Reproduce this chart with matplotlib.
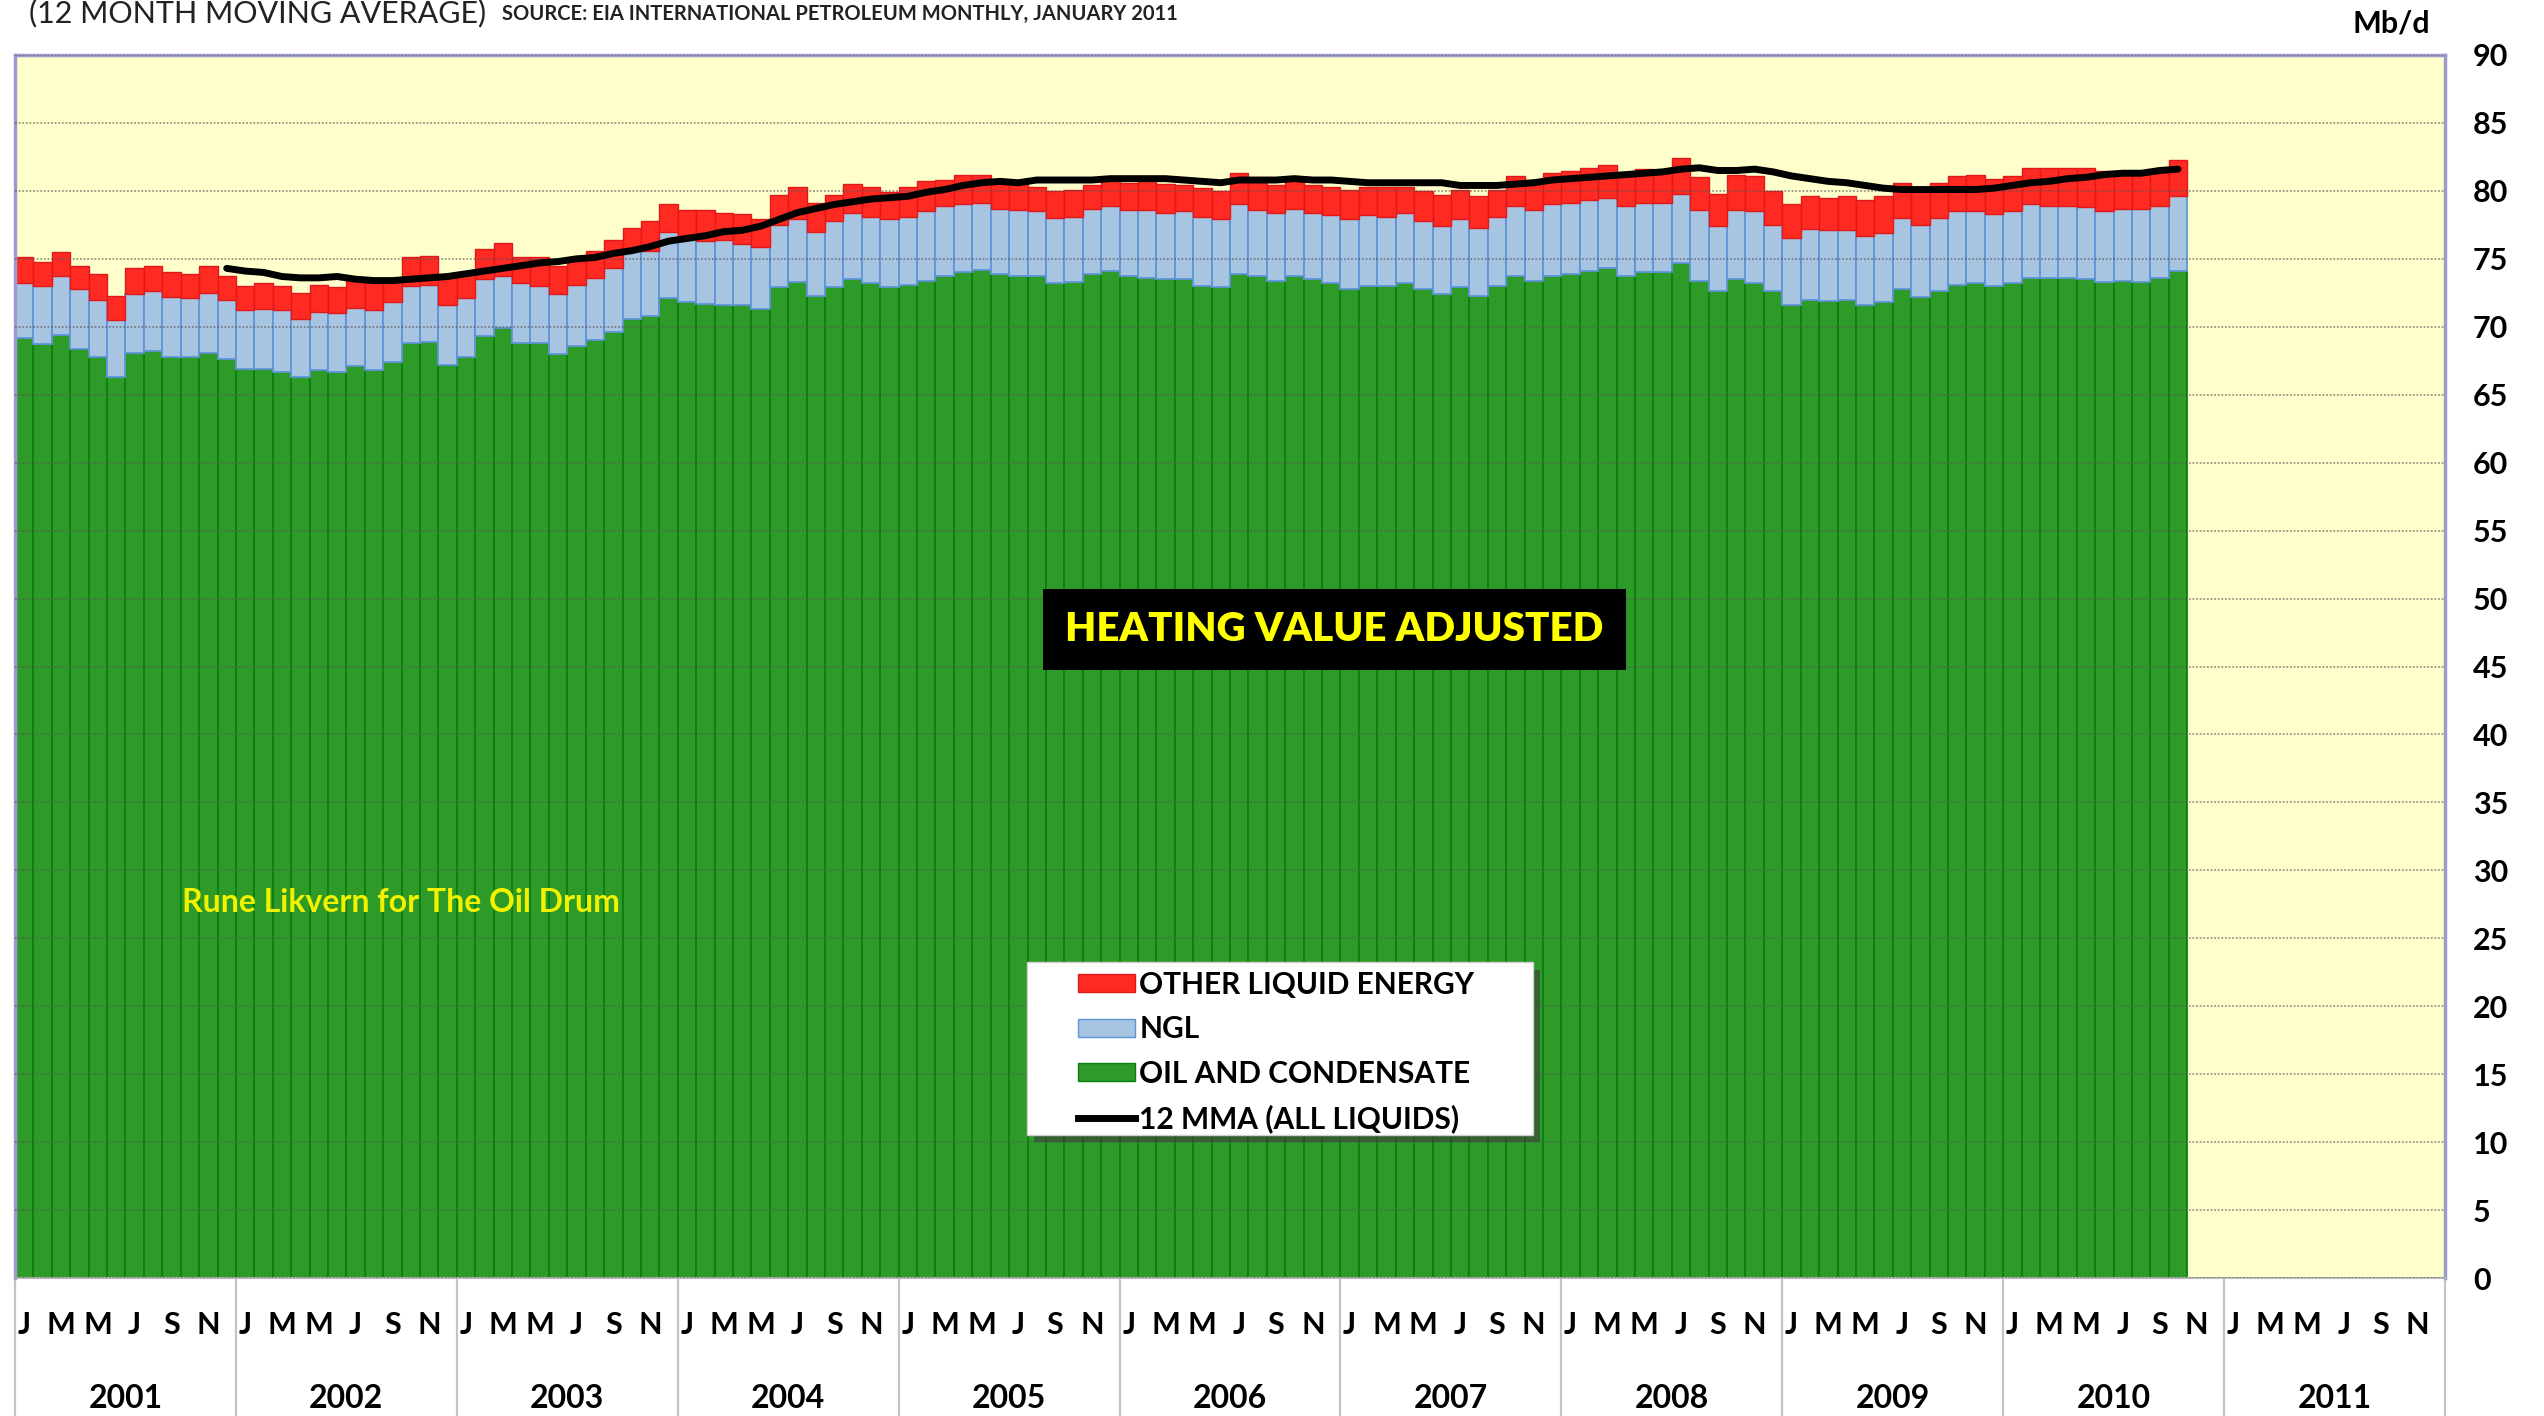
import numpy as np
import matplotlib
matplotlib.use("Agg")
import matplotlib.pyplot as plt
from matplotlib.patches import Rectangle, Patch
from matplotlib.lines import Line2D

plt.rcParams['font.family'] = ['Lato', 'DejaVu Sans']

years = [str(y) for y in range(2001, 2012)]
month_letters = ['J', 'M', 'M', 'J', 'S', 'N']

# Mb/d, Jan 2001 .. Oct 2010
oil = [69.2, 68.7, 69.4, 68.4, 67.8, 66.3, 68.1, 68.2, 67.8, 67.8, 68.1, 67.6,
       66.9, 66.9, 66.7, 66.3, 66.8, 66.7, 67.1, 66.8, 67.4, 68.8, 68.9, 67.2,
       67.8, 69.3, 69.9, 68.8, 68.8, 68.0, 68.6, 69.0, 69.6, 70.6, 70.8, 72.1,
       71.8, 71.7, 71.6, 71.6, 71.3, 72.9, 73.3, 72.3, 72.9, 73.5, 73.2, 72.9,
       73.1, 73.4, 73.7, 74.0, 74.2, 73.9, 73.7, 73.7, 73.2, 73.3, 73.9, 74.1,
       73.7, 73.6, 73.5, 73.5, 73.0, 72.9, 73.9, 73.7, 73.4, 73.7, 73.5, 73.2,
       72.8, 73.0, 73.0, 73.2, 72.8, 72.4, 72.9, 72.3, 73.0, 73.7, 73.4, 73.7,
       73.9, 74.1, 74.3, 73.7, 74.0, 74.0, 74.7, 73.4, 72.6, 73.5, 73.2, 72.6,
       71.6, 72.0, 71.9, 72.0, 71.6, 71.8, 72.8, 72.2, 72.6, 73.1, 73.2, 73.0,
       73.2, 73.6, 73.6, 73.6, 73.5, 73.3, 73.4, 73.3, 73.6, 74.1]

ngl = [4.0, 4.3, 4.3, 4.4, 4.2, 4.2, 4.3, 4.4, 4.4, 4.3, 4.4, 4.4,
       4.3, 4.4, 4.5, 4.3, 4.3, 4.3, 4.3, 4.4, 4.4, 4.2, 4.2, 4.4,
       4.3, 4.2, 3.8, 4.4, 4.2, 4.4, 4.5, 4.6, 4.7, 5.0, 4.8, 4.9,
       4.9, 4.6, 4.8, 4.5, 4.6, 4.6, 4.6, 4.7, 4.9, 4.9, 4.9, 5.0,
       5.0, 5.1, 5.2, 5.0, 4.9, 4.8, 4.9, 4.8, 4.8, 4.8, 4.8, 4.8,
       4.9, 5.0, 4.9, 5.0, 5.1, 5.0, 5.1, 4.9, 5.0, 5.0, 4.9, 5.0,
       5.1, 5.2, 5.1, 5.2, 5.0, 5.0, 5.0, 5.0, 5.1, 5.2, 5.2, 5.3,
       5.2, 5.2, 5.2, 5.2, 5.1, 5.1, 5.1, 5.2, 4.8, 5.1, 5.3, 4.9,
       4.9, 5.2, 5.2, 5.1, 5.1, 5.1, 5.2, 5.3, 5.4, 5.4, 5.3, 5.3,
       5.3, 5.4, 5.3, 5.3, 5.3, 5.2, 5.3, 5.4, 5.3, 5.5]

other = [1.9, 1.8, 1.8, 1.7, 1.9, 1.8, 1.9, 1.9, 1.8, 1.8, 2.0, 1.7,
         1.8, 1.9, 1.8, 1.9, 2.0, 1.9, 2.1, 2.1, 1.8, 2.1, 2.1, 2.0,
         1.8, 2.2, 2.5, 1.9, 2.1, 2.1, 1.9, 2.0, 2.1, 1.7, 2.2, 2.0,
         1.9, 2.3, 2.0, 2.2, 2.0, 2.2, 2.4, 2.1, 1.9, 2.1, 2.2, 2.0,
         2.2, 2.2, 1.9, 2.2, 2.1, 2.1, 2.0, 1.8, 2.0, 2.0, 1.7, 2.1,
         2.0, 2.3, 2.1, 1.9, 2.1, 2.1, 2.3, 2.2, 2.0, 2.1, 2.0, 2.1,
         2.2, 2.1, 2.2, 1.9, 2.2, 2.3, 2.2, 2.3, 2.0, 2.2, 2.2, 2.3,
         2.4, 2.4, 2.4, 2.3, 2.5, 2.3, 2.6, 2.4, 2.4, 2.6, 2.6, 2.5,
         2.5, 2.4, 2.4, 2.5, 2.6, 2.7, 2.6, 2.7, 2.6, 2.6, 2.7, 2.6,
         2.6, 2.7, 2.8, 2.8, 2.9, 3.0, 2.8, 2.8, 2.6, 2.7]

# 12 month moving average of all liquids, Dec 2001 .. Oct 2010
mma = [74.3,
       74.1, 74.0, 73.7, 73.6, 73.6, 73.7, 73.5, 73.4, 73.4, 73.5, 73.6, 73.7,
       73.9, 74.1, 74.3, 74.5, 74.7, 74.8, 75.0, 75.1, 75.4, 75.6, 75.9, 76.3,
       76.5, 76.7, 77.0, 77.1, 77.4, 77.9, 78.4, 78.7, 79.0, 79.2, 79.4, 79.5,
       79.6, 79.9, 80.1, 80.4, 80.6, 80.7, 80.6, 80.8, 80.8, 80.8, 80.8, 80.9,
       80.9, 80.9, 80.9, 80.8, 80.7, 80.6, 80.8, 80.8, 80.8, 80.9, 80.8, 80.8,
       80.7, 80.6, 80.6, 80.6, 80.6, 80.6, 80.4, 80.4, 80.4, 80.5, 80.6, 80.8,
       80.9, 81.0, 81.1, 81.2, 81.3, 81.4, 81.6, 81.7, 81.5, 81.5, 81.6, 81.4,
       81.1, 80.9, 80.7, 80.6, 80.4, 80.2, 80.1, 80.1, 80.1, 80.1, 80.1, 80.2,
       80.4, 80.6, 80.7, 80.9, 81.0, 81.2, 81.3, 81.3, 81.5, 81.6]

GREEN, GREEN_EDGE = '#2e9a28', '#0a8010'
BLUE, BLUE_EDGE = '#a7c4e0', '#5f95d8'
RED, RED_EDGE = '#ff2a22', '#e01a1a'

oil = np.array(oil)
ngl = np.array(ngl)
other = np.array(other)
x = np.arange(len(oil)) + 0.5
x_mma = np.arange(len(oil) - len(mma), len(oil)) + 0.5
n_months = 12 * len(years)

fig = plt.figure(figsize=(25.44, 14.16), dpi=100)
ax = fig.add_axes([15 / 2544, 138 / 1416, 2430 / 2544, 1223 / 1416])
ax.set_facecolor('#ffffcc')

ax.bar(x, oil, width=1.0, color=GREEN, edgecolor=GREEN_EDGE, linewidth=1.3, zorder=2)
ax.bar(x, ngl, bottom=oil, width=1.0, color=BLUE, edgecolor=BLUE_EDGE, linewidth=1.3, zorder=2)
ax.bar(x, other, bottom=oil + ngl, width=1.0, color=RED, edgecolor=RED_EDGE, linewidth=1.0, zorder=2)
ax.plot(x_mma, mma, color='black', lw=5, solid_capstyle='round', zorder=4)

ax.set_xlim(0, n_months)
ax.set_ylim(0, 90)
ax.set_yticks(np.arange(0, 91, 5))
ax.yaxis.tick_right()
ax.tick_params(axis='y', length=0, pad=20, labelsize=22)
for lab in ax.get_yticklabels():
    lab.set_fontweight('bold')
ax.grid(axis='y', color='#555555', linestyle=(0, (1, 1)), lw=1.3, alpha=0.6, zorder=3)
ax.set_axisbelow(False)

# month letters (minor) and years (major)
month_pos = [12 * i + m + 0.5 for i in range(len(years)) for m in range(0, 12, 2)]
ax.set_xticks(month_pos, minor=True)
ax.set_xticklabels(month_letters * len(years), minor=True, fontsize=22, fontweight='bold')
ax.set_xticks([12 * i + 6 for i in range(len(years))])
ax.set_xticklabels(years, fontsize=23, fontweight='bold')
ax.tick_params(axis='x', which='minor', length=0, pad=24)
ax.tick_params(axis='x', which='major', length=0, pad=76)

for k in range(len(years) + 1):
    ax.plot([12 * k, 12 * k], [0, -0.115], transform=ax.get_xaxis_transform(),
            color='#c4c4c4', lw=1.6, clip_on=False, zorder=1)

for side in ['left', 'top', 'right']:
    ax.spines[side].set_color('#9b9bd0')
    ax.spines[side].set_linewidth(2.5)
ax.spines['bottom'].set_color('#b8b8b8')
ax.spines['bottom'].set_linewidth(1.5)

# banner
ax.add_patch(Rectangle((0.423, 0.497), 0.240, 0.066, transform=ax.transAxes,
                       facecolor='black', edgecolor='none', zorder=6))
ax.text(0.543, 0.530, 'HEATING VALUE ADJUSTED', transform=ax.transAxes,
        ha='center', va='center', color='#ffff00', fontsize=29, fontweight='heavy', zorder=7)
ax.text(0.159, 0.307, 'Rune Likvern for The Oil Drum', transform=ax.transAxes,
        ha='center', va='center', color='#f2f200', fontsize=23, fontweight='bold', zorder=7)

# legend box with shadow, then frameless legend on top
ax.add_patch(Rectangle((0.4195, 0.111), 0.2082, 0.141, transform=ax.transAxes,
                       facecolor='#3a3a3a', edgecolor='none', alpha=0.6, zorder=7))
ax.add_patch(Rectangle((0.4165, 0.117), 0.2082, 0.141, transform=ax.transAxes,
                       facecolor='white', edgecolor='#d0d0d0', lw=1.0, zorder=7))
handles = [Patch(facecolor=RED, edgecolor=RED_EDGE),
           Patch(facecolor=BLUE, edgecolor=BLUE_EDGE),
           Patch(facecolor=GREEN, edgecolor=GREEN_EDGE),
           Line2D([], [], color='black', lw=5)]
labels = ['OTHER LIQUID ENERGY', 'NGL', 'OIL AND CONDENSATE', '12 MMA (ALL LIQUIDS)']
leg = ax.legend(handles, labels, loc='upper left', bbox_to_anchor=(0.4375, 0.251),
                frameon=False, prop={'weight': 'bold', 'size': 21.5},
                handlelength=1.9, handleheight=0.55, handletextpad=0.15,
                labelspacing=0.55, borderpad=0, borderaxespad=0)
leg.set_zorder(8)

fig.text(29 / 2544, 1 - 22 / 1416, '(12 MONTH MOVING AVERAGE)', fontsize=22,
         ha='left', va='baseline', color='#222222')
fig.text(502 / 2544, 1 - 20 / 1416, 'SOURCE: EIA INTERNATIONAL PETROLEUM MONTHLY, JANUARY 2011',
         fontsize=14.5, fontweight='bold', ha='left', va='baseline', color='#222222')
fig.text(2430 / 2544, 1 - 24 / 1416, 'Mb/d', fontsize=22, fontweight='bold',
         ha='right', va='center')

fig.savefig('out.png', dpi=100, facecolor='white')
